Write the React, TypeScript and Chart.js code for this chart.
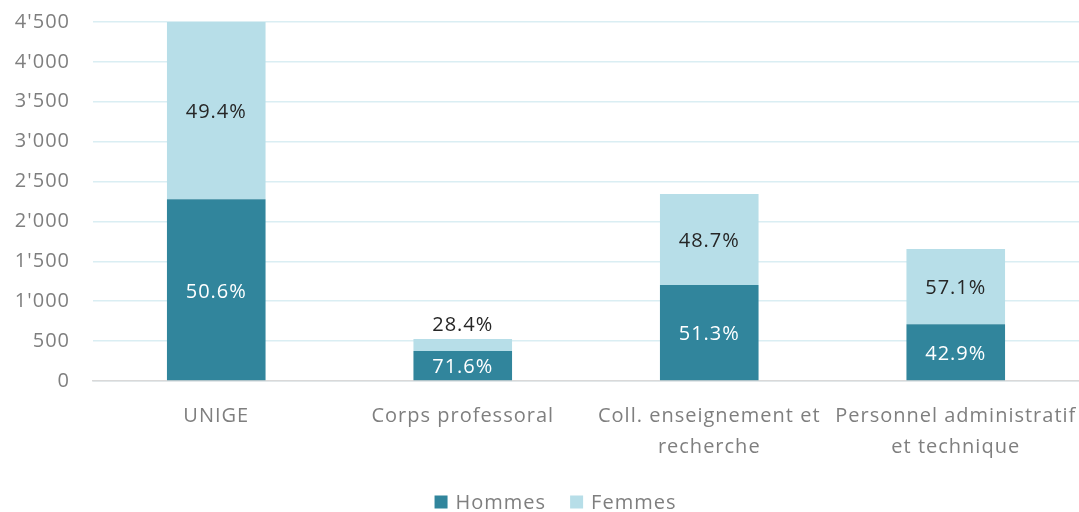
import React, { useEffect, useRef } from "react";
import { Chart, registerables } from "chart.js";

Chart.register(...registerables);

const categories: (string | string[])[] = [
  "UNIGE",
  "Corps professoral",
  ["Coll. enseignement et", "recherche"],
  ["Personnel administratif", "et technique"],
];
const seriesNames = ["Hommes", "Femmes"];
const hommes = [2277, 377, 1202, 710];
const femmes = [2223, 149, 1141, 945];
const hommesPct = ["50.6%", "71.6%", "51.3%", "42.9%"];
const femmesPct = ["49.4%", "28.4%", "48.7%", "57.1%"];
const yTicks = [0, 500, 1000, 1500, 2000, 2500, 3000, 3500, 4000, 4500];

const FONT = "'Open Sans', sans-serif";
const SIZE = 20;
const DARK = "#31859C";
const LIGHT = "#B7DEE8";
const GREY = "#7F7F7F";

const spacingPlugin = {
  id: "spacing",
  beforeUpdate(chart: any) {
    chart.ctx.letterSpacing = "1px";
  },
  beforeDraw(chart: any) {
    chart.ctx.letterSpacing = "1px";
  },
};

const legendPlugin = {
  id: "customLegend",
  afterDraw(chart: any) {
    const ctx = chart.ctx;
    ctx.save();
    ctx.letterSpacing = "1px";
    ctx.font = `${SIZE}px ${FONT}`;
    ctx.textBaseline = "middle";
    ctx.textAlign = "left";
    const box = 13;
    const gapText = 8;
    const gapItem = 24;
    const items = chart.data.datasets.map((ds: any) => ({
      text: ds.label,
      color: ds.backgroundColor,
      w: ctx.measureText(ds.label).width,
    }));
    const total = items.reduce(
      (s: number, it: any, i: number) => s + box + gapText + it.w + (i > 0 ? gapItem : 0),
      0
    );
    let x = chart.width / 2 + 16 - total / 2;
    const cy = 502;
    items.forEach((it: any) => {
      ctx.fillStyle = it.color;
      ctx.fillRect(x, cy - box / 2, box, box);
      x += box + gapText;
      ctx.fillStyle = GREY;
      ctx.fillText(it.text, x, cy + 1);
      x += it.w + gapItem;
    });
    ctx.restore();
  },
};

const labelPlugin = {
  id: "segLabels",
  afterDatasetsDraw(chart: any) {
    const ctx = chart.ctx;
    const labelsets = [hommesPct, femmesPct];
    const colors = ["#FFFFFF", "#262626"];
    ctx.save();
    ctx.letterSpacing = "1px";
    ctx.font = `${SIZE}px ${FONT}`;
    ctx.textAlign = "center";
    ctx.textBaseline = "middle";
    chart.data.datasets.forEach((ds: any, di: number) => {
      const meta = chart.getDatasetMeta(di);
      meta.data.forEach((bar: any, i: number) => {
        const top = Math.min(bar.y, bar.base);
        const bottom = Math.max(bar.y, bar.base);
        const h = bottom - top;
        let y = (top + bottom) / 2;
        let color = colors[di];
        if (h < 22) {
          y = top - 16;
          color = "#262626";
        }
        ctx.fillStyle = color;
        ctx.fillText(labelsets[di][i], bar.x, y + 2);
      });
    });
    ctx.restore();
  },
};

export default function App() {
  const ref = useRef<HTMLCanvasElement>(null);
  useEffect(() => {
    if (!ref.current) return;
    const chart = new Chart(ref.current, {
      type: "bar",
      data: {
        labels: categories,
        datasets: [
          {
            label: seriesNames[0],
            data: hommes,
            backgroundColor: DARK,
            categoryPercentage: 1,
            barPercentage: 0.4,
          },
          {
            label: seriesNames[1],
            data: femmes,
            backgroundColor: LIGHT,
            categoryPercentage: 1,
            barPercentage: 0.4,
          },
        ],
      },
      options: {
        animation: false,
        responsive: false,
        maintainAspectRatio: false,
        layout: { padding: { top: 22, right: 0, left: 0, bottom: 44 } },
        plugins: {
          legend: { display: false },
          tooltip: { enabled: false },
        },
        scales: {
          x: {
            stacked: true,
            grid: { display: false, drawTicks: false },
            border: { display: true, color: "#D9D9D9", width: 1.5 },
            ticks: {
              color: GREY,
              font: { family: FONT, size: SIZE, lineHeight: 1.55 },
              padding: 20,
              maxRotation: 0,
              autoSkip: false,
            },
            afterFit(scale: any) {
              scale.height = 87;
              scale.paddingLeft = 0;
              scale.paddingRight = 0;
            },
          },
          y: {
            stacked: true,
            min: 0,
            max: 4500,
            afterBuildTicks(scale: any) {
              scale.ticks = yTicks.map((v) => ({ value: v }));
            },
            grid: { color: "#DAEEF3", lineWidth: 1.5, drawTicks: false },
            border: { display: false },
            ticks: {
              color: GREY,
              font: { family: FONT, size: SIZE },
              padding: 23,
              callback: (v: any) =>
                String(v).replace(/\B(?=(\d{3})+(?!\d))/g, "'"),
            },
            afterFit(scale: any) {
              scale.width = 93;
              scale.paddingTop = 0;
              scale.paddingBottom = 0;
            },
          },
        },
      },
      plugins: [spacingPlugin, labelPlugin, legendPlugin],
    });
    return () => chart.destroy();
  }, []);
  return (
    <div style={{ position: "fixed", left: 0, top: 0, width: 1079, height: 512, background: "#fff" }}>
      <canvas ref={ref} width={1079} height={512} style={{ width: 1079, height: 512 }} />
    </div>
  );
}
